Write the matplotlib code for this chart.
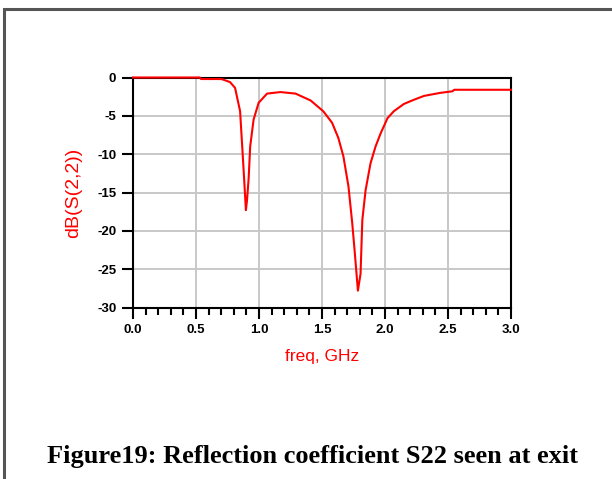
import matplotlib
matplotlib.use("Agg")
import matplotlib.pyplot as plt
from matplotlib.patches import Rectangle
from matplotlib.ticker import MultipleLocator

# S22 trace (freq in GHz, magnitude in dB)
freq = [0.0, 0.53, 0.54, 0.70, 0.72, 0.77, 0.81, 0.85, 0.878, 0.896, 0.905,
        0.918, 0.93, 0.957, 0.997, 1.064, 1.17, 1.29, 1.41, 1.51, 1.58,
        1.63, 1.67, 1.71, 1.74, 1.76, 1.785, 1.806, 1.82, 1.846, 1.885,
        1.925, 1.965, 2.02, 2.07, 2.15, 2.23, 2.31, 2.44, 2.535, 2.55, 3.0]
s22_db = [0.0, 0.0, -0.2, -0.2, -0.3, -0.6, -1.35, -4.4, -12.1, -17.3, -16.0,
          -13.1, -9.0, -5.5, -3.3, -2.1, -1.9, -2.1, -3.0, -4.4, -5.9,
          -7.9, -10.3, -14.2, -19.0, -22.8, -27.8, -25.6, -18.6, -14.7, -11.2,
          -9.0, -7.3, -5.3, -4.4, -3.45, -2.9, -2.4, -2.0, -1.8, -1.6, -1.6]

x_ticks = [0.0, 0.5, 1.0, 1.5, 2.0, 2.5, 3.0]
y_ticks = [0, -5, -10, -15, -20, -25, -30]

fig = plt.figure(figsize=(6.12, 4.79), dpi=100)
ax = fig.add_axes([133/612, 1-307.5/479, 378/612, 230/479])

ax.grid(True, color="#c8c8c8", linewidth=1.4, zorder=0)
ax.plot(freq, s22_db, color="red", linewidth=1.5, zorder=3, clip_on=False)

ax.set_xlim(0, 3)
ax.set_ylim(-30, 0)
ax.set_xticks(x_ticks)
ax.set_xticklabels([f"{t:.1f}" for t in x_ticks])
ax.set_yticks(y_ticks)
ax.set_yticklabels([str(t) for t in y_ticks])
ax.xaxis.set_minor_locator(MultipleLocator(0.1))

for s in ax.spines.values():
    s.set_linewidth(1.5)
    s.set_color("black")
    s.set_zorder(2)

ax.tick_params(axis="both", which="major", direction="out", length=8,
               width=1.5, pad=4)
ax.tick_params(axis="x", which="minor", direction="out", length=5, width=1.5)
for lab in ax.get_xticklabels() + ax.get_yticklabels():
    lab.set_fontfamily("Liberation Sans")
    lab.set_fontweight("bold")
    lab.set_fontsize(9.5)

ax.set_xlabel("freq, GHz", color="red", fontsize=12.5,
              fontfamily="Liberation Sans", labelpad=9)
ax.set_ylabel("dB(S(2,2))", color="red", fontsize=14,
              fontfamily="Liberation Sans", labelpad=11)

# page frame around the figure
fig.patches.append(Rectangle((4/612, -0.1), 1.2, 1 - 9/479 + 0.1,
                             transform=fig.transFigure, fill=False,
                             edgecolor="#555555", linewidth=2.2))

fig.text(0.511, 1-456/479, "Figure19: Reflection coefficient S22 seen at exit",
         ha="center", va="center", fontfamily="Liberation Serif",
         fontweight="bold", fontsize=19)

fig.savefig("out.png", dpi=100)
